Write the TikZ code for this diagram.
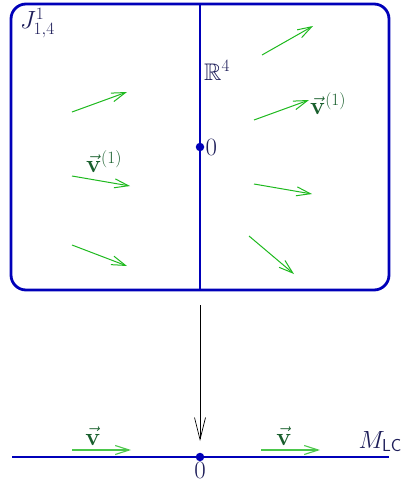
\documentclass[tikz,border=0pt]{standalone}
\usepackage{amsmath,amssymb}
\usetikzlibrary{arrows.meta}
\definecolor{frameblue}{RGB}{0,0,185}
\definecolor{vgreen}{RGB}{30,185,30}
\definecolor{lgreen}{RGB}{25,95,45}
\definecolor{navy}{RGB}{30,30,90}
\begin{document}
\begin{tikzpicture}[x=1pt,y=-1pt,
  txt/.style={inner sep=1pt,text=navy,font=\fontsize{24}{28}\selectfont},
  vlab/.style={inner sep=1pt,text=lgreen,font=\fontsize{24}{28}\selectfont},
  field/.style={vgreen,line width=1pt,-{Straight Barb[length=14pt,width=9pt]}},
  bfield/.style={vgreen!80,line width=1.6pt,-{Straight Barb[length=14pt,width=9pt,line width=1.1pt]}},
  frame/.style={frameblue,line width=2.8pt},
  dotn/.style={circle,fill=frameblue,inner sep=0pt,minimum size=8.5pt}]
\useasboundingbox (0,0) rectangle (403,485);
% box
\draw[frame,rounded corners=15pt] (11,4) rectangle (389,290);
\coordinate (ftop) at (200,4);
\coordinate (fbot) at (200,290);
\draw[frame] (ftop) -- (fbot);
\node[dotn] (o1) at (200,147) {};
\node[txt,anchor=west] (z1) at (o1.east) {$0$};
\node[txt,anchor=west] (r4) at (203,70) {$\mathbb{R}^4$};
\node[txt,anchor=north west] (J) at (19,7) {$J^1_{1,4}$};
% field arrows
\coordinate (a1s) at (72,112); \coordinate (a1e) at (127,92);
\coordinate (a2s) at (72,176); \coordinate (a2e) at (130,186);
\coordinate (a3s) at (72,245); \coordinate (a3e) at (127,266);
\coordinate (a4s) at (262,55); \coordinate (a4e) at (313,26);
\coordinate (a5s) at (254,120); \coordinate (a5e) at (309,100);
\coordinate (a6s) at (254,184); \coordinate (a6e) at (312,194);
\coordinate (a7s) at (249,236); \coordinate (a7e) at (294,274);
\foreach \i in {1,...,7} \draw[field] (a\i s) -- (a\i e);
\node[vlab] (v1) at (104,162) {$\vec{\mathbf v}^{(1)}$};
\node[vlab] (v2) at (328,104) {$\vec{\mathbf v}^{(1)}$};
% projection
\coordinate (ps) at (200,305);
\coordinate (pe) at (200,441);
\draw[black,line width=0.7pt,-{Straight Barb[length=22pt,width=11pt]}] (ps) -- (pe);
% bottom line
\coordinate (ls) at (12,457);
\coordinate (le) at (389,457);
\draw[frameblue,line width=2.2pt] (ls) -- (le);
\node[dotn] (o2) at (200,457) {};
\node[txt,anchor=north] (z2) at (200,461) {$0$};
\node[txt,anchor=south east] (M) at (403,453) {$M_{\mathsf{LC}}$};
\coordinate (b1s) at (72,450); \coordinate (b1e) at (131,450);
\coordinate (b2s) at (261,450); \coordinate (b2e) at (320,450);
\draw[bfield] (b1s) -- (b1e);
\draw[bfield] (b2s) -- (b2e);
\node[vlab] (w1) at (93,436) {$\vec{\mathbf v}$};
\node[vlab] (w2) at (284,436) {$\vec{\mathbf v}$};
\end{tikzpicture}
\end{document}
